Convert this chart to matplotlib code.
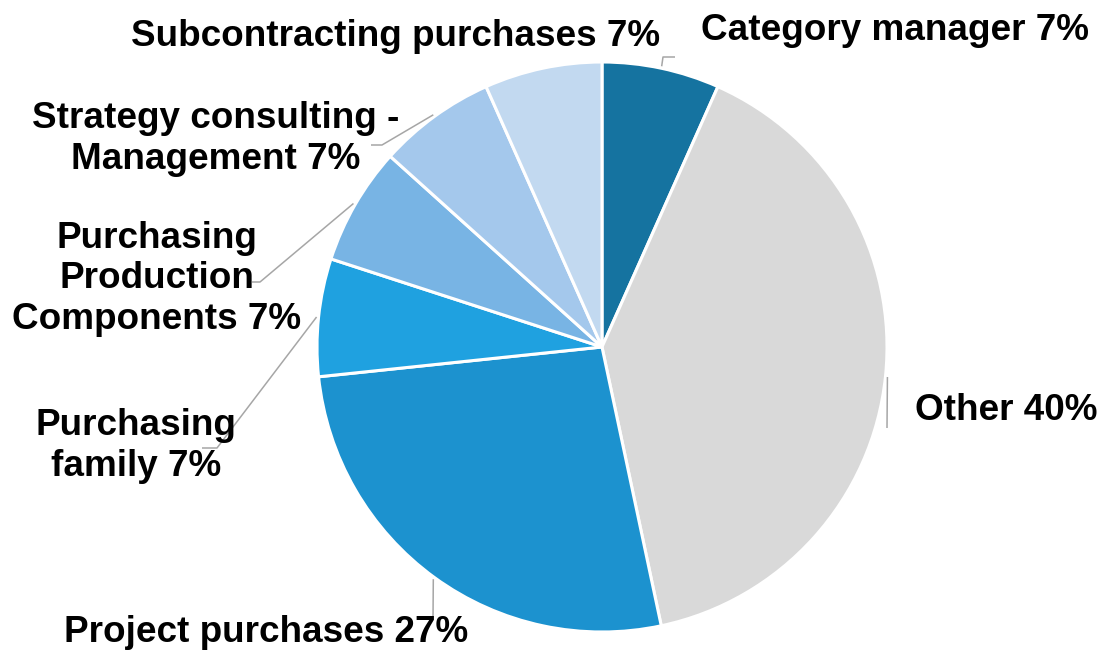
import matplotlib
matplotlib.use("Agg")
import matplotlib.pyplot as plt
import numpy as np

# ---- data ----
categories = ["Category manager", "Other", "Project purchases", "Purchasing family",
              "Purchasing Production Components", "Strategy consulting - Management",
              "Subcontracting purchases"]
values = [1, 6, 4, 1, 1, 1, 1]
pct_labels = ["7%", "40%", "27%", "7%", "7%", "7%", "7%"]
label_texts = ["Category manager 7%", "Other 40%", "Project purchases 27%",
               "Purchasing\nfamily 7%", "Purchasing\nProduction\nComponents 7%",
               "Strategy consulting -\nManagement 7%", "Subcontracting purchases 7%"]
colors = ["#1573A0", "#D9D9D9", "#1C92CF", "#1FA1E0", "#78B4E4", "#A4C8EC", "#C2D9F0"]

W, H = 1100, 655
fig = plt.figure(figsize=(W / 100, H / 100), dpi=100)
ax = fig.add_axes([0, 0, 1, 1])
ax.set_xlim(0, W)
ax.set_ylim(0, H)
ax.set_aspect("equal")
ax.axis("off")

cx, cy_px, R = 602, 347, 285
center = (cx, H - cy_px)
wedges, _ = ax.pie(values, colors=colors, startangle=90, counterclock=False,
                   radius=R, center=center, frame=True,
                   wedgeprops=dict(edgecolor="white", linewidth=2.2))
ax.set_xlim(0, W)
ax.set_ylim(0, H)
ax.axis("off")

def P(x, y):
    return (x, H - y)

# label layout (pixel coords: center x, center y, ha)
layout = [
    (895, 30, "center"),     # Category manager
    (915, 410, "left"),      # Other
    (266, 633, "center"),    # Project purchases
    (136, 446, "center"),    # Purchasing family
    (157, 279, "center"),    # PPC
    (216, 139, "center"),    # Strategy
    (396, 37, "center"),     # Subcontracting
]
# leader elbows (pixel coords) for each label; None = no leader
elbows = [
    [(663, 57), (675, 57)],
    [(887, 428)],
    [(433, 620)],
    [(217, 448), (202, 448)],
    [(260, 282), (252, 282)],
    [(382, 145), (371, 145)],
    None,
]

fs = 26.6
for i, (w, txt) in enumerate(zip(wedges, label_texts)):
    x, y, ha = layout[i]
    ax.text(*P(x, y), txt, ha=ha, va="center", fontsize=fs, fontweight="bold",
            family=["Liberation Sans", "DejaVu Sans"], color="black", linespacing=1.21)
    if elbows[i] is not None:
        ang = np.deg2rad((w.theta1 + w.theta2) / 2)
        sx = center[0] + (R + 2) * np.cos(ang)
        sy = center[1] + (R + 2) * np.sin(ang)
        pts = [(sx, sy)] + [P(*p) for p in elbows[i]]
        xs, ys = zip(*pts)
        ax.plot(xs, ys, color="#A6A6A6", lw=1.1, solid_capstyle="butt")

fig.savefig("out.png", dpi=100)
